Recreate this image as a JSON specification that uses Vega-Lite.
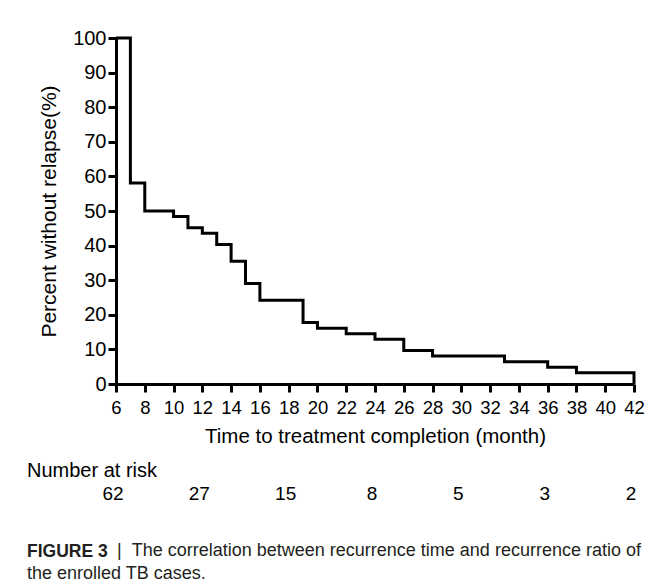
{
  "$schema": "https://vega.github.io/schema/vega-lite/v6.json",
  "padding": {"left": 27, "top": 28, "right": 5, "bottom": 5},
  "background": "white",
  "config": {
    "font": "Liberation Sans",
    "view": {"stroke": null},
    "axis": {
      "grid": false,
      "domainColor": "black",
      "domainWidth": 3,
      "tickColor": "black",
      "tickWidth": 3,
      "tickSize": 8,
      "labelColor": "black",
      "labelFontSize": 20,
      "labelOverlap": false,
      "labelFlush": false,
      "titleColor": "black",
      "titleFontSize": 20.5,
      "titleFontWeight": "normal"
    }
  },
  "title": {
    "text": "FIGURE 3",
    "subtitle": ["\u200b\u00a0\u00a0\u00a0\u00a0\u00a0\u00a0\u00a0\u00a0\u00a0\u00a0\u00a0\u00a0\u00a0\u00a0\u00a0\u00a0\u00a0\u00a0|\u00a0\u00a0The correlation between recurrence time and recurrence ratio of", "the enrolled TB cases."],
    "orient": "bottom",
    "anchor": "start",
    "frame": "bounds",
    "fontSize": 17.5,
    "fontWeight": "bold",
    "color": "#231f20",
    "subtitleFont": "Liberation Sans",
    "subtitleFontSize": 18,
    "subtitleColor": "#231f20",
    "subtitlePadding": -19,
    "subtitleLineHeight": 23,
    "offset": 39
  },
  "spacing": 14,
  "vconcat": [
    {
      "width": 518,
      "height": 346,
      "data": {
        "values": [
          {"t": 6, "s": 100},
          {"t": 7, "s": 58.06},
          {"t": 8, "s": 50},
          {"t": 10, "s": 48.39},
          {"t": 11, "s": 45.16},
          {"t": 12, "s": 43.55},
          {"t": 13, "s": 40.32},
          {"t": 14, "s": 35.48},
          {"t": 15, "s": 29.03},
          {"t": 16, "s": 24.19},
          {"t": 19, "s": 17.74},
          {"t": 20, "s": 16.13},
          {"t": 22, "s": 14.52},
          {"t": 24, "s": 12.9},
          {"t": 26, "s": 9.68},
          {"t": 28, "s": 8.06},
          {"t": 33, "s": 6.45},
          {"t": 36, "s": 4.84},
          {"t": 38, "s": 3.23},
          {"t": 42, "s": 0}
        ]
      },
      "mark": {"type": "line", "interpolate": "step-after", "color": "black", "strokeWidth": 3},
      "encoding": {
        "x": {
          "field": "t",
          "type": "quantitative",
          "scale": {"domain": [6, 42], "nice": false, "zero": false},
          "axis": {"values": [6, 8, 10, 12, 14, 16, 18, 20, 22, 24, 26, 28, 30, 32, 34, 36, 38, 40, 42], "title": "Time to treatment completion (month)", "labelFontSize": 18.5, "labelPadding": 6, "titlePadding": 10}
        },
        "y": {
          "field": "s",
          "type": "quantitative",
          "scale": {"domain": [0, 100], "nice": false},
          "axis": {"values": [0, 10, 20, 30, 40, 50, 60, 70, 80, 90, 100], "title": "Percent without relapse(%)", "labelPadding": 2, "titlePadding": 13, "titleFontSize": 21}
        }
      }
    },
    {
      "width": 518,
      "height": 20,
      "title": {
        "text": "Number at risk",
        "anchor": "start",
        "frame": "group",
        "dx": -89,
        "fontSize": 20,
        "fontWeight": "normal",
        "color": "black",
        "offset": 3
      },
      "data": {
        "values": [
          {"t": 6, "n": 62},
          {"t": 12, "n": 27},
          {"t": 18, "n": 15},
          {"t": 24, "n": 8},
          {"t": 30, "n": 5},
          {"t": 36, "n": 3},
          {"t": 42, "n": 2}
        ]
      },
      "mark": {"type": "text", "fontSize": 19, "color": "black", "dx": -3},
      "encoding": {
        "x": {"field": "t", "type": "quantitative", "scale": {"domain": [6, 42], "nice": false, "zero": false}, "axis": null},
        "text": {"field": "n", "type": "nominal"}
      }
    }
  ]
}
